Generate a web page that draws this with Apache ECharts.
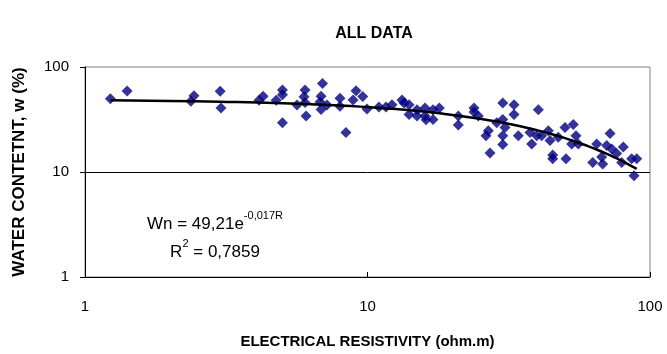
<!DOCTYPE html>
<html>
<head>
<meta charset="utf-8">
<script src="https://cdn.jsdelivr.net/npm/echarts@6/dist/echarts.min.js"></script>
<style>html,body{margin:0;padding:0;background:#fff;}#c{width:667px;height:354px;}</style>
</head>
<body>
<div id="c"></div>
<script>
const resistivity = [1.23,1.41,2.37,2.43,3.01,3.03,4.13,4.27,4.75,5.00,5.00,5.00,5.63,6.01,5.96,6.01,6.06,6.93,6.85,6.79,6.85,7.19,7.99,7.99,8.39,9.11,8.89,9.62,9.96,10.98,11.63,12.21,13.25,13.47,14.03,14.03,14.97,14.97,15.98,15.98,16.11,17.06,17.06,17.96,20.96,20.96,23.82,23.82,24.67,26.27,26.77,27.14,28.67,30.11,30.11,30.67,30.11,30.11,33.01,33.01,34.19,37.6,38.13,40.24,39.72,41.37,43.65,44.26,45.24,45.24,47.35,50.02,50.43,53.52,52.82,54.7,55.75,64.77,62.7,67.45,68.0,70.27,72.2,73.2,76.24,80.45,79.4,86.13,89.75,87.77];
const waterContent = [49.9,59.2,47.3,53.2,58.9,40.7,48.3,52.6,48.3,60.4,54.3,29.5,43.4,60.4,52.0,45.8,34.1,69.5,52.6,46.3,39.4,43.4,50.4,42.2,23.8,59.5,48.6,52.3,39.8,41.6,41.6,43.6,48.6,45.3,43.6,35.2,39.2,34.1,40.7,34.1,31.5,39.2,31.7,40.7,34.1,28.1,40.7,37.3,34.1,22.2,24.7,15.2,29.5,45.3,31.7,26.5,22.2,18.3,43.6,35.2,22.2,23.8,18.5,39.2,22.2,22.2,24.7,19.9,14.5,13.4,21.4,26.5,13.4,28.4,18.5,22.2,18.5,18.5,12.3,13.9,11.9,17.9,23.3,16.6,15.0,17.3,12.3,13.4,13.4,9.2];
const trendX = [1.23,2,3,5,8,10,12,15,18,25,30,35,40,45,50,55,60,65,70,75,80,89.75];
const trendY = [48.18,47.56,46.76,45.20,42.95,41.52,40.13,38.13,36.24,32.17,29.55,27.14,24.93,22.90,21.03,19.32,17.74,16.30,14.97,13.75,12.63,10.70];
const yTicks = [1,10,100];
const xTicks = [1,10,100];

const chart = echarts.init(document.getElementById('c'));
const font = 'Liberation Sans, Arial, sans-serif';
chart.setOption({
  backgroundColor: '#fff',
  animation: false,
  textStyle: { fontFamily: font },
  title: [
    { text: 'ALL DATA', left: 369, top: 21, textAlign: 'center',
      textStyle: { fontSize: 16, fontWeight: 'bold', color: '#000', fontFamily: font } },
    { text: 'Wn = 49,21e{s|-0,017R}\n{r|R}{s|2}{r| = 0,7859}', left: 210, top: 205, textAlign: 'center',
      textStyle: { fontSize: 17, fontWeight: 'normal', color: '#000', fontFamily: font, lineHeight: 28,
        rich: { s: { fontSize: 11, verticalAlign: 'top', lineHeight: 14, padding: [0,0,10,0] }, r: { fontSize: 17 } } } }
  ],
  grid: { left: 85, right: 17, top: 67, bottom: 72, show: true, borderColor: '#808080', borderWidth: 1 },
  xAxis: {
    type: 'log', logBase: 10, min: 1, max: 100,
    name: 'ELECTRICAL RESISTIVITY (ohm.m)', nameLocation: 'middle', nameGap: 57,
    nameTextStyle: { fontSize: 15, fontWeight: 'bold', color: '#000', fontFamily: font },
    axisLine: { lineStyle: { color: '#000', width: 1 } },
    axisTick: { inside: true, length: 5, lineStyle: { color: '#000' } },
    axisLabel: { fontSize: 15, color: '#000', margin: 22, fontFamily: font,
      formatter: v => xTicks.includes(Math.round(v)) ? String(Math.round(v)) : '' },
    splitLine: { show: false }, minorTick: { show: false }
  },
  yAxis: {
    type: 'log', logBase: 10, min: 1, max: 100,
    name: 'WATER CONTETNT, w (%)', nameLocation: 'middle', nameGap: 57,
    nameTextStyle: { fontSize: 17, fontWeight: 'bold', color: '#000', fontFamily: font },
    axisLine: { show: true, lineStyle: { color: '#000', width: 1 } },
    axisTick: { show: true, length: 5, lineStyle: { color: '#000' } },
    axisLabel: { fontSize: 15, color: '#000', margin: 16, fontFamily: font,
      formatter: v => yTicks.includes(Math.round(v)) ? String(Math.round(v)) : '' },
    splitLine: { show: true, showMaxLine: false, lineStyle: { color: '#000', width: 1 } }
  },
  series: [
    { type: 'scatter', symbol: 'diamond', symbolSize: 11,
      itemStyle: { color: '#000080' },
      data: resistivity.map((x, i) => [x, waterContent[i]]), z: 3 },
    { type: 'line', smooth: true, showSymbol: false, symbol: 'none',
      lineStyle: { color: '#000', width: 2.5 },
      data: trendX.map((x, i) => [x, trendY[i]]), z: 4 }
  ]
});
</script>
</body>
</html>
